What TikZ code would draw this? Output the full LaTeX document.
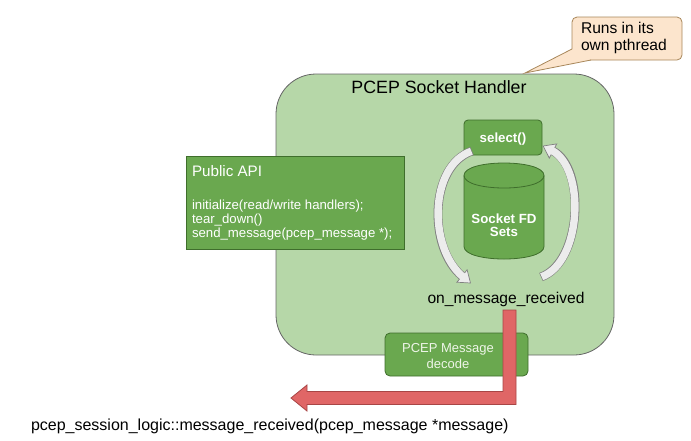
\documentclass[tikz,border=0pt]{standalone}
\usepackage{fontspec}
\setmainfont{Liberation Sans}
\definecolor{lgreen}{HTML}{B6D7A8}
\definecolor{mgreen}{HTML}{6AA84F}
\definecolor{dgreen}{HTML}{3F6E2C}
\definecolor{bigborder}{HTML}{666666}
\definecolor{callfill}{HTML}{FCE5CD}
\definecolor{callborder}{HTML}{A8875A}
\definecolor{redfill}{HTML}{E06666}
\definecolor{redborder}{HTML}{A84545}
\definecolor{arrfill}{HTML}{ECECEC}
\definecolor{arrborder}{HTML}{808080}
\definecolor{paletext}{HTML}{EEF5E8}
\begin{document}
\begin{tikzpicture}[x=1pt,y=-1pt,
  handlerbox/.style={draw=bigborder, fill=lgreen, line width=0.8pt, rounded corners=40pt, inner sep=0pt},
  greenbox/.style={draw=dgreen, fill=mgreen, line width=0.8pt, inner sep=0pt},
  calloutbox/.style={draw=callborder, fill=callfill, line width=0.8pt, rounded corners=5pt, inner sep=0pt},
  txt/.style={inner sep=0pt, outer sep=0pt},
  loopout/.style={color=arrborder, line width=8.8pt},
  loopin/.style={color=arrfill, line width=7.4pt},
  arrhead/.style={draw=arrborder, fill=arrfill, line width=0.7pt, line join=miter},
  fbig/.style={font=\fontsize{17.8}{20}\selectfont},
  fmid/.style={font=\fontsize{15.6}{18}\selectfont},
  fsmall/.style={font=\fontsize{13.2}{15}\selectfont},
  fbold/.style={font=\fontsize{13.3}{15}\selectfont\bfseries}
]
\useasboundingbox (0,0) rectangle (691,440);

% main handler box
\node[handlerbox, minimum width=338pt, minimum height=281pt] (handler) at (445,214.5) {};
\node[txt, fbig, anchor=base] (title) at (439,93) {PCEP Socket Handler};

% callout
\node[calloutbox, minimum width=110pt, minimum height=43pt] (callout) at (627,38.5) {};
\coordinate (ptip) at (525,73);
\coordinate (pa) at (572,49);
\coordinate (pb) at (591,60);
\fill[callfill] (pa) -- (ptip) -- (pb) -- cycle;
\draw[callborder, line width=0.8pt, line join=miter] (pa) -- (ptip) -- (pb);
\node[txt, fmid, anchor=base west] (runs1) at (581,33) {Runs in its};
\node[txt, fmid, anchor=base west] (runs2) at (581,50) {own pthread};

% public API box
\node[greenbox, minimum width=218pt, minimum height=93pt] (api) at (295,202.5) {};
\node[txt, font=\fontsize{15.2}{18}\selectfont, text=white, anchor=base west] (apititle) at (192,176) {Public API};
\node[txt, fsmall, text=white, anchor=base west] (api1) at (192,209) {initialize(read/write handlers);};
\node[txt, fsmall, text=white, anchor=base west] (api2) at (192,223) {tear\_down()};
\node[txt, fsmall, text=white, anchor=base west] (api3) at (192,237) {send\_message(pcep\_message *);};

% select box
\node[greenbox, rounded corners=4pt, minimum width=78pt, minimum height=35pt] (select) at (503,137.5) {};
\node[txt, fbold, text=white, anchor=base] (selecttxt) at (503,142.8) {select()};

% cylinder
\filldraw[draw=dgreen, fill=mgreen, line width=0.8pt]
  (464,175.5) -- (464,246.5) .. controls (464,263.17) and (544,263.17) .. (544,246.5)
  -- (544,175.5) .. controls (544,158.83) and (464,158.83) .. (464,175.5) -- cycle;
\draw[dgreen, line width=0.8pt] (464,175.5) .. controls (464,192.17) and (544,192.17) .. (544,175.5);
\node[txt, fbold, text=white, anchor=base] (fd1) at (504,223) {Socket FD};
\node[txt, fbold, text=white, anchor=base] (fd2) at (504,236.8) {Sets};

% on_message_received
\node[txt, fmid, anchor=base] (onmsg) at (506,303) {on\_message\_received};

% curved arrows
\coordinate (la) at (472,151);
\coordinate (lb) at (462,276);
\draw[loopout] (la) .. controls (429,166) and (428,248) .. (lb);
\filldraw[arrhead] (456.9,282.2) -- (470.5,283) -- (467.1,269.8) -- cycle;
\draw[loopin, shorten <=0.7pt, shorten >=-1.5pt] (la) .. controls (429,166) and (428,248) .. (lb);

\coordinate (ra) at (541,277);
\coordinate (rb) at (553,151);
\draw[loopout] (ra) .. controls (582,262) and (586,168) .. (rb);
\filldraw[arrhead] (556.7,143.9) -- (543.2,146) -- (549.3,158.1) -- cycle;
\draw[loopin, shorten <=0.7pt, shorten >=-1.5pt] (ra) .. controls (582,262) and (586,168) .. (rb);

% decode box
\node[greenbox, rounded corners=5pt, minimum width=143pt, minimum height=43pt] (decode) at (456.5,354.5) {};
\node[txt, font=\fontsize{13}{15}\selectfont, text=paletext, anchor=base] (dec1) at (448,352.6) {PCEP Message};
\node[txt, font=\fontsize{13}{15}\selectfont, text=paletext, anchor=base] (dec2) at (448,368.5) {decode};

% red arrow
\filldraw[draw=redborder, fill=redfill, line width=0.8pt, line join=miter]
  (503,310) -- (516,310) -- (516,404.5) -- (307,404.5) -- (307,411) -- (291,398)
  -- (307,385) -- (307,391.5) -- (503,391.5) -- cycle;

% bottom text
\node[txt, font=\fontsize{16}{19}\selectfont, anchor=base west] (sessionlogic) at (31,430)
  {pcep\_session\_logic::message\_received(pcep\_message *message)};
\end{tikzpicture}
\end{document}
